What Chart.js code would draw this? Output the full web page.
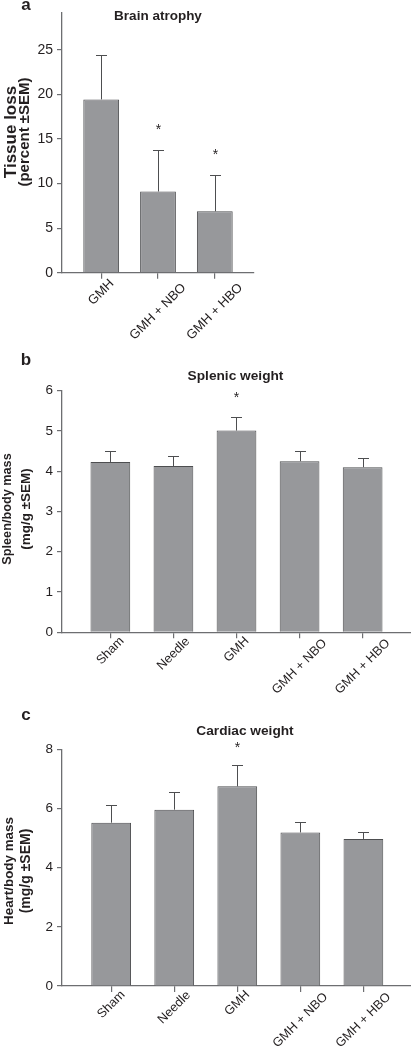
<!DOCTYPE html>
<html><head><meta charset="utf-8">
<script src="https://cdn.jsdelivr.net/npm/chart.js@4.4.1/dist/chart.umd.min.js"></script>
<style>
html,body{margin:0;padding:0;background:#fff;width:411px;height:1050px;overflow:hidden}
canvas{position:absolute;left:0}
</style></head><body>
<canvas id="ca" width="411" height="350" style="top:0px"></canvas>
<canvas id="cb" width="411" height="350" style="top:350px"></canvas>
<canvas id="cc" width="411" height="350" style="top:700px"></canvas>
<script>
// ---- data ----
const brainCategories = ['GMH', 'GMH + NBO', 'GMH + HBO'];
const brainMeans = [19.44, 9.11, 6.89];
const brainSEM = [5.0, 4.63, 4.04];
const brainStars = [false, true, true];
const brainTicks = [0, 5, 10, 15, 20, 25];

const organCategories = ['Sham', 'Needle', 'GMH', 'GMH + NBO', 'GMH + HBO'];
const spleenMeans = [4.23, 4.13, 5.01, 4.25, 4.10];
const spleenSEM = [0.27, 0.25, 0.34, 0.25, 0.24];
const spleenStars = [false, false, true, false, false];
const spleenTicks = [0, 1, 2, 3, 4, 5, 6];

const heartMeans = [5.52, 5.96, 6.75, 5.19, 4.97];
const heartSEM = [0.61, 0.61, 0.73, 0.36, 0.22];
const heartStars = [false, false, true, false, false];
const heartTicks = [0, 2, 4, 6, 8];

// ---- styles ----
const FONT = '"Liberation Sans", Arial, Helvetica, sans-serif';
const AXIS = '#6d6e71';
const TEXT = '#231f20';
const BAR = '#97989b';
const BAR_EDGE = '#4d4e50';

const errPlugin = {
  id: 'errbars',
  afterDatasetsDraw(chart, args, o) {
    const ctx = chart.ctx, y = chart.scales.y;
    const meta = chart.getDatasetMeta(0);
    ctx.save();
    ctx.strokeStyle = BAR_EDGE; ctx.lineWidth = 1;
    ctx.fillStyle = TEXT;
    ctx.font = '14px ' + FONT; ctx.textAlign = 'center'; ctx.textBaseline = 'alphabetic';
    o.sem.forEach((s, i) => {
      const bar = meta.data[i];
      const px = Math.round(bar.x) + 0.5;
      const top = Math.round(y.getPixelForValue(o.means[i] + s)) + 0.5;
      ctx.beginPath();
      ctx.moveTo(px, bar.y); ctx.lineTo(px, top);
      ctx.moveTo(px - o.cap, top); ctx.lineTo(px + o.cap, top);
      ctx.stroke();
      if (o.stars[i]) ctx.fillText('*', px, top - o.starGap);
    });
    ctx.restore();
  }
};

// rotated category labels, centred under each tick
const xLabelPlugin = {
  id: 'xlabels',
  afterDraw(chart, args, o) {
    const ctx = chart.ctx, xs = chart.scales.x, axisY = chart.chartArea.bottom;
    ctx.save();
    ctx.font = o.size + 'px ' + FONT;
    ctx.fillStyle = TEXT; ctx.textAlign = 'center'; ctx.textBaseline = 'middle';
    o.labels.forEach((t, i) => {
      const w = ctx.measureText(t).width;
      const cx = xs.getPixelForValue(i);
      const cy = axisY + o.base + o.slope * w;
      ctx.save();
      ctx.translate(cx, cy);
      ctx.rotate(-Math.PI / 4);
      ctx.fillText(t, 0, 0);
      ctx.restore();
    });
    ctx.restore();
  }
};

const textPlugin = {
  id: 'panelText',
  afterDraw(chart, args, o) {
    const ctx = chart.ctx, ca = chart.chartArea;
    ctx.save();
    ctx.fillStyle = TEXT;
    ctx.textAlign = 'center'; ctx.textBaseline = 'alphabetic';
    ctx.font = 'bold 17px ' + FONT;
    ctx.fillText(o.letter, o.letterX, o.letterY);
    ctx.font = 'bold ' + o.titleSize + 'px ' + FONT;
    ctx.fillText(o.title, (ca.left + ca.right) / 2 + o.titleDx, o.titleY);
    o.yTitle.forEach((t, i) => {
      ctx.save();
      ctx.font = 'bold ' + o.yTitleSize[i] + 'px ' + FONT;
      ctx.translate(o.yTitleX[i], o.yTitleY);
      ctx.rotate(-Math.PI / 2);
      ctx.fillText(t, 0, 0);
      ctx.restore();
    });
    ctx.restore();
  }
};

function makePanel(id, cfg) {
  new Chart(document.getElementById(id), {
    type: 'bar',
    data: {
      datasets: [{
        data: cfg.means.map((m, i) => ({x: i, y: m})),
        backgroundColor: BAR,
        borderColor: BAR_EDGE,
        borderWidth: 1,
        barPercentage: 0.63,
        categoryPercentage: 1
      }]
    },
    options: {
      responsive: false,
      animation: false,
      events: [],
      layout: {padding: {top: cfg.padTop, right: cfg.padRight, left: 0, bottom: 0}},
      scales: {
        x: {
          type: 'linear',
          offset: false,
          min: cfg.xMin, max: cfg.xMax,
          afterBuildTicks: s => { s.ticks = cfg.categories.map((_, i) => ({value: i})); },
          afterFit: s => { s.height = cfg.xHeight; },
          grid: {offset: false, drawOnChartArea: false, drawTicks: true, tickLength: 6, color: AXIS, lineWidth: 1.2},
          border: {display: true, color: AXIS, width: 1.3},
          ticks: {display: false}
        },
        y: {
          min: 0, max: cfg.yMax,
          afterBuildTicks: s => { s.ticks = cfg.yTicks.map(v => ({value: v})); },
          afterFit: s => { s.width = 62; },
          grid: {drawOnChartArea: false, drawTicks: true, tickLength: 5, color: AXIS, lineWidth: 1.2},
          border: {display: true, color: AXIS, width: 1.3},
          ticks: {font: {family: FONT, size: cfg.tickSize}, color: TEXT, padding: 4}
        }
      },
      plugins: {
        legend: {display: false},
        tooltip: {enabled: false},
        title: {display: false},
        errbars: {means: cfg.means, sem: cfg.sem, stars: cfg.stars, cap: 5.5, starGap: cfg.starGap},
        xlabels: {labels: cfg.categories, size: cfg.xLabelSize, base: cfg.xLabelBase, slope: cfg.xLabelSlope},
        panelText: cfg.text
      }
    },
    plugins: [errPlugin, xLabelPlugin, textPlugin]
  });
}

makePanel('ca', {
  categories: brainCategories, means: brainMeans, sem: brainSEM, stars: brainStars,
  yTicks: brainTicks, yMax: 29.2, xMin: -0.69, xMax: 2.69,
  padTop: 10, padRight: 157, xHeight: 77.3, tickSize: 14, starGap: 17,
  xLabelSize: 13, xLabelBase: 6, xLabelSlope: 0.45,
  text: {letter: 'a', letterX: 26, letterY: 10, title: 'Brain atrophy', titleSize: 13.5, titleDx: 0, titleY: 19.5,
         yTitle: ['Tissue loss', '(percent \u00b1SEM)'], yTitleSize: [17, 15], yTitleX: [15.5, 29], yTitleY: 132}
});

makePanel('cb', {
  categories: organCategories, means: spleenMeans, sem: spleenSEM, stars: spleenStars,
  yTicks: spleenTicks, yMax: 6, xMin: -0.767, xMax: 4.767,
  padTop: 40.7, padRight: 0, xHeight: 67.7, tickSize: 13.5, starGap: 16,
  xLabelSize: 12.7, xLabelBase: 5, xLabelSlope: 0.41,
  text: {letter: 'b', letterX: 26, letterY: 15, title: 'Splenic weight', titleSize: 13.7, titleDx: -1, titleY: 29.7,
         yTitle: ['Spleen/body mass', '(mg/g \u00b1SEM)'], yTitleSize: [12.7, 13.5], yTitleX: [11, 29.5], yTitleY: 159}
});

makePanel('cc', {
  categories: organCategories, means: heartMeans, sem: heartSEM, stars: heartStars,
  yTicks: heartTicks, yMax: 8, xMin: -0.78, xMax: 4.755,
  padTop: 49.3, padRight: 0, xHeight: 64, tickSize: 13.5, starGap: 14,
  xLabelSize: 12.7, xLabelBase: 5, xLabelSlope: 0.41,
  text: {letter: 'c', letterX: 26, letterY: 20, title: 'Cardiac weight', titleSize: 13.7, titleDx: 8.5, titleY: 34.7,
         yTitle: ['Heart/body mass', '(mg/g \u00b1SEM)'], yTitleSize: [13.4, 14], yTitleX: [12.5, 30], yTitleY: 171}
});
</script>
</body></html>
